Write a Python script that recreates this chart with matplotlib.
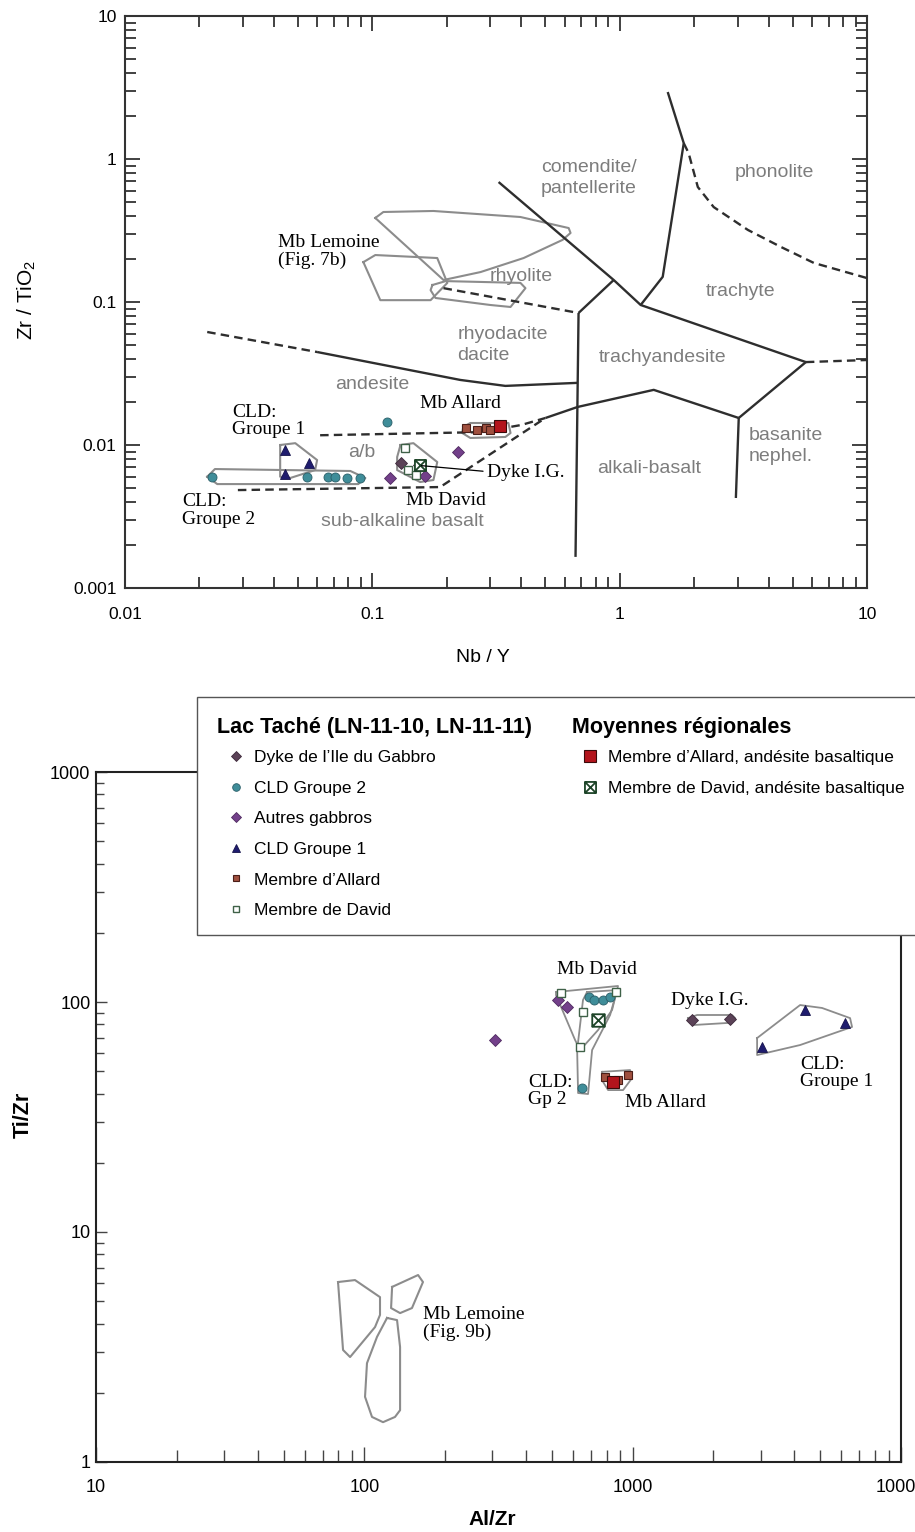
import matplotlib
matplotlib.use("Agg")
from matplotlib import pyplot as plt
from matplotlib.lines import Line2D
from matplotlib.patches import Rectangle
from matplotlib.path import Path
from matplotlib.ticker import LogLocator, FixedLocator, FixedFormatter, NullFormatter

plt.rcParams['font.family'] = ['Liberation Sans', 'DejaVu Sans']
plt.rcParams['mathtext.fontset'] = 'custom'
plt.rcParams['mathtext.rm'] = 'Liberation Sans'
SERIF = ['Liberation Serif', 'DejaVu Serif']

# ------------------------------------------------------------------
# Top diagram: Zr/TiO2 vs Nb/Y, field boundaries (Nb/Y, Zr/TiO2)
# ------------------------------------------------------------------
solid_bounds = [
    ([0.324, 0.946, 1.216, 5.66], [0.69, 0.1425, 0.0953, 0.038]),
    ([0.946, 0.682], [0.1425, 0.0838]),
    ([1.564, 1.816, 1.493, 1.216], [2.94, 1.29, 0.150, 0.0953]),
    ([0.682, 0.663], [0.0838, 0.00165]),
    ([0.501, 0.676, 1.373, 3.03], [0.01545, 0.01845, 0.0243, 0.01545]),
    ([3.03, 5.66], [0.01545, 0.038]),
    ([3.03, 2.95], [0.01545, 0.00426]),
    ([0.0598, 0.227, 0.345, 0.676], [0.0447, 0.0285, 0.0259, 0.0272]),
]
dashed_bounds = [
    ([0.0215, 0.0598], [0.0617, 0.0447]),
    ([0.194, 0.682], [0.125, 0.0838]),
    ([0.0615, 0.274, 0.40, 0.501], [0.0117, 0.0123, 0.0138, 0.01545]),
    ([0.0286, 0.188, 0.501], [0.00484, 0.00508, 0.01545]),
    ([1.816, 1.90, 2.07, 2.40, 3.30, 4.48, 6.10, 10.0],
     [1.29, 1.10, 0.637, 0.461, 0.319, 0.243, 0.1875, 0.147]),
    ([5.66, 10.0], [0.038, 0.0393]),
]
field_names = ["comendite/\npantellerite", "phonolite", "rhyolite", "trachyte",
               "rhyodacite\ndacite", "trachyandesite", "andesite", "a/b",
               "sub-alkaline basalt", "alkali-basalt", "basanite\nnephel."]
field_x = [0.749, 4.24, 0.40, 3.09, 0.221, 1.493, 0.10, 0.091, 0.132, 1.31, 3.33]
field_y = [0.736, 0.81, 0.15, 0.1175, 0.050, 0.0406, 0.0267, 0.0088, 0.0029, 0.0069, 0.0098]
field_ha = ['center', 'center', 'center', 'center', 'left', 'center', 'center',
            'center', 'center', 'center', 'left']

# Mb Lemoine outlines
lem1_x = [0.1028, 0.1108, 0.1766, 0.397, 0.622, 0.633, 0.588, 0.409, 0.274, 0.194]
lem1_y = [0.387, 0.426, 0.433, 0.393, 0.329, 0.304, 0.272, 0.203, 0.162, 0.1425]
lem2_x = [0.092, 0.1028, 0.183, 0.201, 0.172, 0.1077]
lem2_y = [0.190, 0.213, 0.203, 0.136, 0.103, 0.103]
lem3_x = [0.175, 0.198, 0.397, 0.416, 0.362, 0.300, 0.180, 0.172]
lem3_y = [0.1315, 0.140, 0.136, 0.125, 0.0923, 0.0953, 0.1067, 0.121]

# group outlines
cld2_px = [0.0215, 0.0231, 0.0815, 0.0937, 0.0877, 0.0236]
cld2_py = [0.0060, 0.00679, 0.00658, 0.00588, 0.00533, 0.00533]
cld1_px = [0.0424, 0.0488, 0.0598, 0.0587, 0.0466, 0.0424]
cld1_py = [0.0100, 0.0103, 0.00785, 0.00668, 0.00588, 0.0060]
david_px = [0.130, 0.1466, 0.183, 0.1766, 0.156, 0.126, 0.126]
david_py = [0.0100, 0.0103, 0.0076, 0.00569, 0.00551, 0.00668, 0.00824]
allard_px = [0.233, 0.249, 0.355, 0.362, 0.345, 0.249, 0.231]
allard_py = [0.01336, 0.01425, 0.01425, 0.01213, 0.01138, 0.0112, 0.01213]

# samples
cld2_x = [0.0225, 0.0546, 0.0664, 0.0708, 0.0793, 0.0894, 0.115]
cld2_y = [0.0060, 0.0060, 0.0060, 0.0060, 0.0059, 0.0059, 0.0145]
cld1_x = [0.0444, 0.0556, 0.0444]
cld1_y = [0.00923, 0.00748, 0.00627]
autres_x = [0.118, 0.223, 0.163]
autres_y = [0.00588, 0.00893, 0.0061]
dyke_x = [0.130, 0.154]
dyke_y = [0.0075, 0.0072]
david_x = [0.136, 0.139, 0.150]
david_y = [0.00953, 0.00668, 0.0062]
allard_x = [0.240, 0.264, 0.287, 0.300]
allard_y = [0.01315, 0.0127, 0.01315, 0.0127]
david_avg = (0.156, 0.00725)
allard_avg = (0.327, 0.0136)

# black labels
top_labels = ["Mb Lemoine\n(Fig. 7b)", "Mb Allard", "CLD:\nGroupe 1", "CLD:\nGroupe 2",
              "Mb David", "Dyke I.G."]
top_lab_x = [0.0416, 0.227, 0.0271, 0.017, 0.198, 0.292]
top_lab_y = [0.224, 0.0194, 0.0147, 0.0035, 0.0041, 0.0064]
top_lab_ha = ['left', 'center', 'left', 'left', 'center', 'left']

# ------------------------------------------------------------------
# Bottom diagram: Ti/Zr vs Al/Zr
# ------------------------------------------------------------------
b_autres_x = [307, 527, 569]
b_autres_y = [68.4, 102, 95]
b_cld2_x = [690, 720, 776, 820, 648]
b_cld2_y = [105, 102, 102, 105, 42.3]
b_david_x = [541, 867, 637, 653]
b_david_y = [109, 110, 63.7, 90.5]
b_allard_x = [789, 961, 880]
b_allard_y = [47.2, 48, 46]
b_dyke_x = [1664, 2306]
b_dyke_y = [83.5, 84]
b_cld1_x = [4393, 6190, 3036]
b_cld1_y = [92.3, 81, 63.7]
b_david_avg = (743, 83.5)
b_allard_avg = (845, 44.9)

b_david_px = [518, 882, 838, 743, 637, 610, 518]
b_david_py = [110.5, 117.4, 92.3, 75.5, 61.8, 68.4, 107.2]
b_cld2_px = [676, 875, 824, 706, 682, 626, 621, 653]
b_cld2_py = [110.5, 112.7, 87.8, 61.8, 39.8, 40.2, 61.8, 102]
b_allard_px = [769, 978, 995, 921, 810, 776]
b_allard_py = [49.7, 50.6, 46.7, 41.4, 41.4, 44.9]
b_dyke_px = [1609, 1738, 2347, 2409, 2268, 1679]
b_dyke_py = [85.1, 87.8, 87.8, 85.1, 81.1, 79.4]
b_cld1_px = [2909, 4207, 5080, 6460, 6570, 4207, 2909]
b_cld1_py = [69.7, 97.0, 94.2, 85.1, 77.9, 65.0, 58.8]
b_lem1_x = [79.8, 92.3, 114.4, 114.4, 109.6, 88.5, 83.3]
b_lem1_y = [6.06, 6.18, 5.21, 4.36, 3.86, 2.86, 3.07]
b_lem2_x = [126.9, 158.6, 165.4, 150.5, 135.9, 125.8]
b_lem2_y = [5.77, 6.50, 6.06, 4.67, 4.44, 4.67]
b_lem3_x = [121.5, 132.4, 135.9, 135.9, 130.1, 117.4, 106.8, 100.6, 102.3, 111.5]
b_lem3_y = [4.23, 4.14, 3.16, 1.68, 1.57, 1.49, 1.57, 1.92, 2.69, 3.50]

bot_labels = ["Mb David", "Dyke I.G.", "CLD:\nGp 2", "Mb Allard", "CLD:\nGroupe 1",
              "Mb Lemoine\n(Fig. 9b)"]
bot_lab_x = [736, 1942, 407, 937, 4207, 165.5]
bot_lab_y = [138, 102, 41.0, 36.7, 49.1, 4.02]
bot_lab_ha = ['center', 'center', 'left', 'left', 'left', 'left']

legend_left = ["Dyke de l’Ile du Gabbro", "CLD Groupe 2", "Autres gabbros", "CLD Groupe 1",
               "Membre d’Allard", "Membre de David"]
legend_right = ["Membre d’Allard, andésite basaltique", "Membre de David, andésite basaltique"]

# ------------------------------------------------------------------
crossbox = Path([(-1, -1), (1, -1), (1, 1), (-1, 1), (-1, -1), (-1, -1), (1, 1), (-1, 1), (1, -1)],
                [Path.MOVETO, Path.LINETO, Path.LINETO, Path.LINETO, Path.CLOSEPOLY,
                 Path.MOVETO, Path.LINETO, Path.MOVETO, Path.LINETO])

styles = {
    'dyke': dict(marker='D', mfc='#5b4257', mec='#3e2a3b', mew=0.6),
    'cld2': dict(marker='o', mfc='#3f8d99', mec='#2a5e68', mew=0.6),
    'autres': dict(marker='D', mfc='#73408a', mec='#4f2a60', mew=0.6),
    'cld1': dict(marker='^', mfc='#1f1c6e', mec='#15124a', mew=0.6),
    'allard': dict(marker='s', mfc='#a0503f', mec='#4a1e18', mew=0.8),
    'david': dict(marker='s', mfc='white', mec='#3f6148', mew=1.0),
    'allard_avg': dict(marker='s', mfc='#b3141c', mec='#3a0a0a', mew=0.8),
    'david_avg': dict(marker=crossbox, mfc='white', mec='#1d4428', mew=1.3),
}
POLY = '#8c8c8c'
LINE = '#2e2e2e'
GREY_TXT = '#7d7d7d'

fig = plt.figure(figsize=(9.15, 15.32), dpi=100)
ax1 = fig.add_axes([125 / 915, 1 - 588 / 1532, 742 / 915, 572 / 1532])
ax2 = fig.add_axes([96 / 915, 1 - 1462 / 1532, 805 / 915, 690 / 1532])


def outline(ax, xs, ys, lw=1.4):
    ax.plot(list(xs) + [xs[0]], list(ys) + [ys[0]], color=POLY, lw=lw, zorder=2)


def pts(ax, xs, ys, key, ms):
    ax.plot(xs, ys, ls='none', ms=ms, zorder=4, **styles[key])


# ---------------- top panel ----------------
ax1.set_xscale('log')
ax1.set_yscale('log')
ax1.set_xlim(0.01, 10)
ax1.set_ylim(0.001, 10)

for xs, ys in solid_bounds:
    ax1.plot(xs, ys, color=LINE, lw=1.7, zorder=3, solid_capstyle='butt')
for xs, ys in dashed_bounds:
    ax1.plot(xs, ys, color=LINE, lw=1.7, ls=(0, (3.6, 2.2)), zorder=3)

for xs, ys in [(lem1_x, lem1_y), (lem2_x, lem2_y), (lem3_x, lem3_y)]:
    outline(ax1, xs, ys, lw=1.5)
for xs, ys in [(cld2_px, cld2_py), (cld1_px, cld1_py), (david_px, david_py), (allard_px, allard_py)]:
    outline(ax1, xs, ys, lw=1.5)

for name, x, y, ha in zip(field_names, field_x, field_y, field_ha):
    ax1.text(x, y, name, fontsize=14, color=GREY_TXT, ha=ha, va='center',
             linespacing=1.3, multialignment='left', zorder=3)

for name, x, y, ha in zip(top_labels, top_lab_x, top_lab_y, top_lab_ha):
    ax1.text(x, y, name, fontsize=14, family=SERIF, ha=ha, va='center',
             linespacing=1.05, zorder=5)
ax1.annotate("", xy=(dyke_x[1], dyke_y[1]), xytext=(top_lab_x[5] * 0.985, top_lab_y[5] * 1.02),
             arrowprops=dict(arrowstyle='-', color='black', lw=0.9), zorder=5)

pts(ax1, cld2_x, cld2_y, 'cld2', 6.5)
pts(ax1, cld1_x, cld1_y, 'cld1', 7)
pts(ax1, autres_x, autres_y, 'autres', 6)
pts(ax1, dyke_x, dyke_y, 'dyke', 6)
pts(ax1, david_x, david_y, 'david', 5.5)
pts(ax1, allard_x, allard_y, 'allard', 6)
pts(ax1, [david_avg[0]], [david_avg[1]], 'david_avg', 8)
pts(ax1, [allard_avg[0]], [allard_avg[1]], 'allard_avg', 8.5)

ax1.xaxis.set_major_locator(FixedLocator([0.01, 0.1, 1, 10]))
ax1.xaxis.set_major_formatter(FixedFormatter(["0.01", "0.1", "1", "10"]))
ax1.yaxis.set_major_locator(FixedLocator([0.001, 0.01, 0.1, 1, 10]))
ax1.yaxis.set_major_formatter(FixedFormatter(["0.001", "0.01", "0.1", "1", "10"]))
for axis in (ax1.xaxis, ax1.yaxis):
    axis.set_minor_locator(LogLocator(base=10, subs=range(2, 10), numticks=20))
    axis.set_minor_formatter(NullFormatter())
ax1.tick_params(which='both', direction='in', top=True, right=True, colors='#333333',
                labelcolor='black', width=1.3, labelsize=12.5)
ax1.tick_params(which='major', length=11)
ax1.tick_params(which='minor', length=8)
ax1.tick_params(axis='x', pad=14)
ax1.tick_params(axis='y', pad=6)
for s in ax1.spines.values():
    s.set_linewidth(1.5)
    s.set_color('#333333')
ax1.set_xlabel("Nb / Y", fontsize=14)
ax1.set_ylabel("Zr / TiO$_2$", fontsize=15)
ax1.xaxis.set_label_coords(0.4825, -0.106)
ax1.yaxis.set_label_coords(-0.117, 0.503)

# ---------------- bottom panel ----------------
ax2.set_xscale('log')
ax2.set_yscale('log')
ax2.set_xlim(10, 10000)
ax2.set_ylim(1, 1000)

for xs, ys in [(b_lem1_x, b_lem1_y), (b_lem2_x, b_lem2_y), (b_lem3_x, b_lem3_y)]:
    outline(ax2, xs, ys, lw=1.5)
for xs, ys in [(b_david_px, b_david_py), (b_cld2_px, b_cld2_py), (b_allard_px, b_allard_py),
               (b_dyke_px, b_dyke_py), (b_cld1_px, b_cld1_py)]:
    outline(ax2, xs, ys, lw=1.3)

pts(ax2, b_autres_x, b_autres_y, 'autres', 6)
pts(ax2, b_cld2_x, b_cld2_y, 'cld2', 6.5)
pts(ax2, b_david_x, b_david_y, 'david', 5.5)
pts(ax2, b_dyke_x, b_dyke_y, 'dyke', 6)
pts(ax2, b_cld1_x, b_cld1_y, 'cld1', 7)
pts(ax2, b_allard_x, b_allard_y, 'allard', 6)
pts(ax2, [b_allard_avg[0]], [b_allard_avg[1]], 'allard_avg', 8.5)
pts(ax2, [b_david_avg[0]], [b_david_avg[1]], 'david_avg', 9)

for name, x, y, ha in zip(bot_labels, bot_lab_x, bot_lab_y, bot_lab_ha):
    ax2.text(x, y, name, fontsize=14, family=SERIF, ha=ha, va='center',
             linespacing=1.05, zorder=5)

ax2.xaxis.set_major_locator(FixedLocator([10, 100, 1000, 10000]))
ax2.xaxis.set_major_formatter(FixedFormatter(["10", "100", "1000", "10000"]))
ax2.yaxis.set_major_locator(FixedLocator([1, 10, 100, 1000]))
ax2.yaxis.set_major_formatter(FixedFormatter(["1", "10", "100", "1000"]))
for axis in (ax2.xaxis, ax2.yaxis):
    axis.set_minor_locator(LogLocator(base=10, subs=range(2, 10), numticks=20))
    axis.set_minor_formatter(NullFormatter())
ax2.tick_params(which='both', direction='in', colors='#444444', labelcolor='black',
                width=1.0, labelsize=13)
ax2.tick_params(axis='x', which='major', length=11, pad=12)
ax2.tick_params(axis='x', which='minor', length=9)
ax2.tick_params(axis='y', which='major', length=8, pad=4)
ax2.tick_params(axis='y', which='minor', length=6)
for s in ax2.spines.values():
    s.set_linewidth(1.5)
    s.set_color('#222222')
ax2.set_xlabel("Al/Zr", fontsize=15, fontweight='bold')
ax2.set_ylabel("Ti/Zr", fontsize=15.5, fontweight='bold')
ax2.xaxis.set_label_coords(0.492, -0.07)
ax2.yaxis.set_label_coords(-0.077, 0.503)

# ---------------- legend box ----------------
fig.patches.append(Rectangle((197 / 915, 1 - 935 / 1532), 740 / 915, 238 / 1532,
                             transform=fig.transFigure, facecolor='white',
                             edgecolor='#555555', lw=1.0, zorder=1))
fig.text(217 / 915, 1 - 728 / 1532, "Lac Taché (LN-11-10, LN-11-11)", fontsize=15.5,
         fontweight='bold', va='center', zorder=3)
fig.text(572 / 915, 1 - 728 / 1532, "Moyennes régionales", fontsize=15.5,
         fontweight='bold', va='center', zorder=3)


def handle(key, ms):
    return Line2D([], [], ls='none', ms=ms, **styles[key])


left_handles = [handle('dyke', 5), handle('cld2', 5.5), handle('autres', 5),
                handle('cld1', 6), handle('allard', 5), handle('david', 5)]
right_handles = [handle('allard_avg', 8), handle('david_avg', 8)]
leg_kw = dict(loc='upper left', bbox_transform=fig.transFigure, frameon=False,
              fontsize=12.5, handlelength=0.75, handletextpad=0.7, labelspacing=0.89,
              borderpad=0, borderaxespad=0)
fig.legend(left_handles, legend_left, bbox_to_anchor=(229 / 915, 1 - 750 / 1532), **leg_kw)
fig.legend(right_handles, legend_right, bbox_to_anchor=(583 / 915, 1 - 750 / 1532), **leg_kw)

fig.savefig("out.png", dpi=100)
